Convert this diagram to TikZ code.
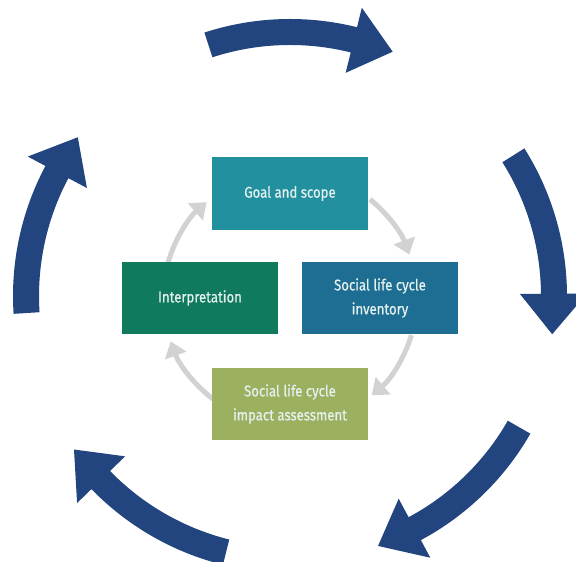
\documentclass[tikz,border=0pt]{standalone}
\usepackage{fontspec}
\setmainfont{Fira Sans}[FakeStretch=0.85, FakeBold=0.6]
\usetikzlibrary{arrows.meta}

\definecolor{cyclenavy}{HTML}{22457F}
\definecolor{loopgray}{HTML}{D2D2D2}
\definecolor{goalteal}{HTML}{2390A0}
\definecolor{invblue}{HTML}{1E6D92}
\definecolor{interpgreen}{HTML}{0F7A5E}
\definecolor{impactolive}{HTML}{9CB060}
\definecolor{boxtext}{HTML}{E4F1EE}

% one thick curved arrow of the outer cycle: #1 = tail angle, #2 = angle of the head base
\newcommand\cyclearrow[2]{%
  \fill[cyclenavy]
    (#1:277) arc[start angle=#1, end angle=#2, radius=277]
    -- (#2:297) -- ({#2-8.8}:265) -- (#2:230)
    -- (#2:251) arc[start angle=#2, end angle=#1, radius=251] -- cycle;}

\tikzset{
  stagebox/.style={minimum width=156pt, minimum height=72pt, inner sep=0pt,
    align=center, text=boxtext, font=\fontsize{15.5}{24}\selectfont},
  loopline/.style={loopgray, line width=5pt,
    -{Triangle[width=22pt,length=15pt]}},
}

\begin{document}
\begin{tikzpicture}[x=1pt, y=1pt]
\useasboundingbox (0,0) rectangle (576,562);

% outer cycle of five arrows
\begin{scope}[shift={(290,266)}]
  \cyclearrow{108}{76}
  \cyclearrow{32.2}{0.5}
  \cyclearrow{-29.8}{-61.8}
  \cyclearrow{256}{224.2}
  \cyclearrow{183.7}{152}
\end{scope}

% inner loop connectors
\coordinate (lc) at (290,264);
\coordinate (s1) at ([shift={(51:127)}]lc);
\coordinate (s2) at ([shift={(-17:127)}]lc);
\coordinate (s3) at ([shift={(233:127)}]lc);
\coordinate (s4) at ([shift={(164:127)}]lc);
\draw[loopline] (s1) arc[start angle=51, end angle=20, radius=127];
\draw[loopline] (s2) arc[start angle=-17, end angle=-50, radius=127];
\draw[loopline] (s3) arc[start angle=233, end angle=200, radius=127];
\draw[loopline] (s4) arc[start angle=164, end angle=131, radius=127];

% the four stages
\node[stagebox, fill=goalteal, minimum height=73pt] (goal) at (290,368.5) {Goal and scope};
\node[stagebox, fill=invblue] (inv) at (380,264) {Social life cycle\\inventory};
\node[stagebox, fill=impactolive] (impact) at (290,158) {Social life cycle\\impact assessment};
\node[stagebox, fill=interpgreen] (interp) at (200,264) {Interpretation};
\end{tikzpicture}
\end{document}
